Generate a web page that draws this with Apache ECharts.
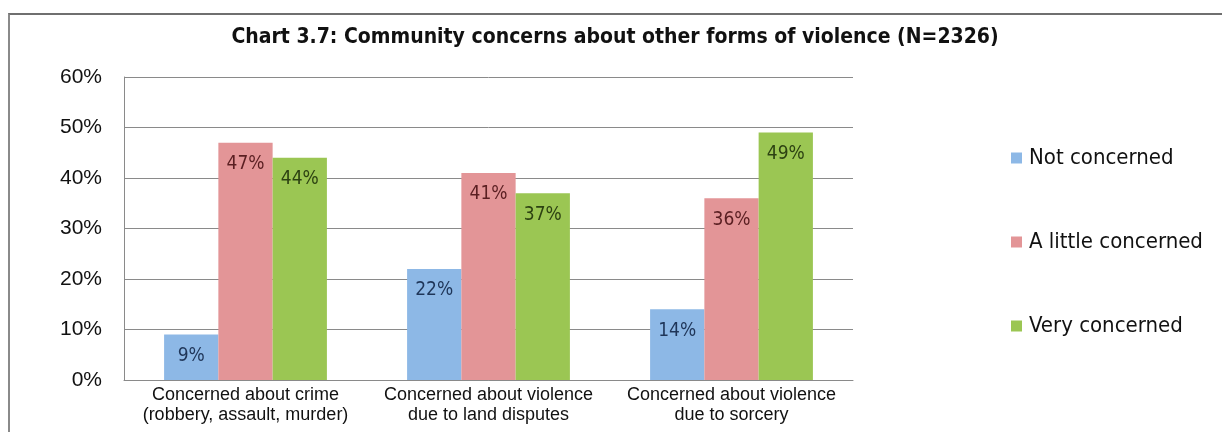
<!DOCTYPE html>
<html>
<head>
<meta charset="utf-8">
<script src="https://cdn.jsdelivr.net/npm/echarts@6/dist/echarts.min.js"></script>
<style>
  html, body { margin: 0; padding: 0; background: #fff; }
  #frame { position: absolute; left: 8px; top: 13px; width: 1214px; height: 419px;
           border-top: 2px solid #6f6f6f; border-left: 2px solid #8a8a8a; box-sizing: border-box; }
  #chart { position: absolute; left: 0; top: 0; width: 1222px; height: 432px; }
</style>
</head>
<body>
<div id="frame"></div>
<div id="chart"></div>
<script>
const categories = [
  'Concerned about crime\n(robbery, assault, murder)',
  'Concerned about violence\ndue to land disputes',
  'Concerned about violence\ndue to sorcery'
]
const notConcerned = [9, 22, 14]
const littleConcerned = [47, 41, 36]
const veryConcerned = [44, 37, 49]
const seriesNames = ['Not concerned', 'A little concerned', 'Very concerned']
const yTicks = [0, 10, 20, 30, 40, 50, 60]

const narrow = '"Liberation Sans Narrow", "DejaVu Sans Condensed", "Liberation Sans", sans-serif'
const colors = ['#8db8e6', '#e39597', '#9bc653']
const labelColors = ['#1f3558', '#5a1f22', '#2d4212']

const chart = echarts.init(document.getElementById('chart'))

const makeSeries = (name, data, i) => ({
  name,
  type: 'bar',
  data,
  barGap: 0,
  barCategoryGap: '33%',
  itemStyle: { color: colors[i] },
  label: {
    show: true,
    position: 'insideTop',
    distance: 12,
    formatter: '{c}%',
    color: labelColors[i],
    fontFamily: narrow,
    fontSize: 19
  }
})

chart.setOption({
  animation: false,
  title: {
    text: 'Chart 3.7: Community concerns about other forms of violence (N=2326)',
    left: 610,
    textAlign: 'center',
    top: 22,
    textStyle: { fontFamily: narrow, fontWeight: 'bold', fontSize: 21, color: '#111' }
  },
  legend: {
    orient: 'vertical',
    left: 1006,
    top: 142,
    itemGap: 62,
    itemWidth: 11,
    itemHeight: 11,
    icon: 'rect',
    data: seriesNames,
    textStyle: { fontFamily: narrow, fontSize: 22, color: '#111', padding: [0, 0, 0, 2] }
  },
  grid: { left: 124, right: 369, top: 77, bottom: 52 },
  xAxis: {
    type: 'category',
    data: categories,
    axisTick: { show: false },
    axisLine: { lineStyle: { color: '#8a8a8a', width: 1 } },
    axisLabel: {
      color: '#111',
      fontFamily: '"Liberation Sans", Arial, sans-serif',
      fontSize: 18,
      lineHeight: 20,
      margin: 5,
      interval: 0
    }
  },
  yAxis: {
    type: 'value',
    min: yTicks[0],
    max: yTicks[yTicks.length - 1],
    interval: 10,
    axisLine: { show: true, lineStyle: { color: '#8a8a8a', width: 1 } },
    axisTick: { show: false },
    splitLine: { lineStyle: { color: '#8a8a8a', width: 1 } },
    axisLabel: {
      formatter: '{value}%',
      color: '#111',
      fontFamily: '"Liberation Sans", Arial, sans-serif',
      fontSize: 21,
      margin: 22
    }
  },
  series: [
    makeSeries(seriesNames[0], notConcerned, 0),
    makeSeries(seriesNames[1], littleConcerned, 1),
    makeSeries(seriesNames[2], veryConcerned, 2)
  ]
})
</script>
</body>
</html>
